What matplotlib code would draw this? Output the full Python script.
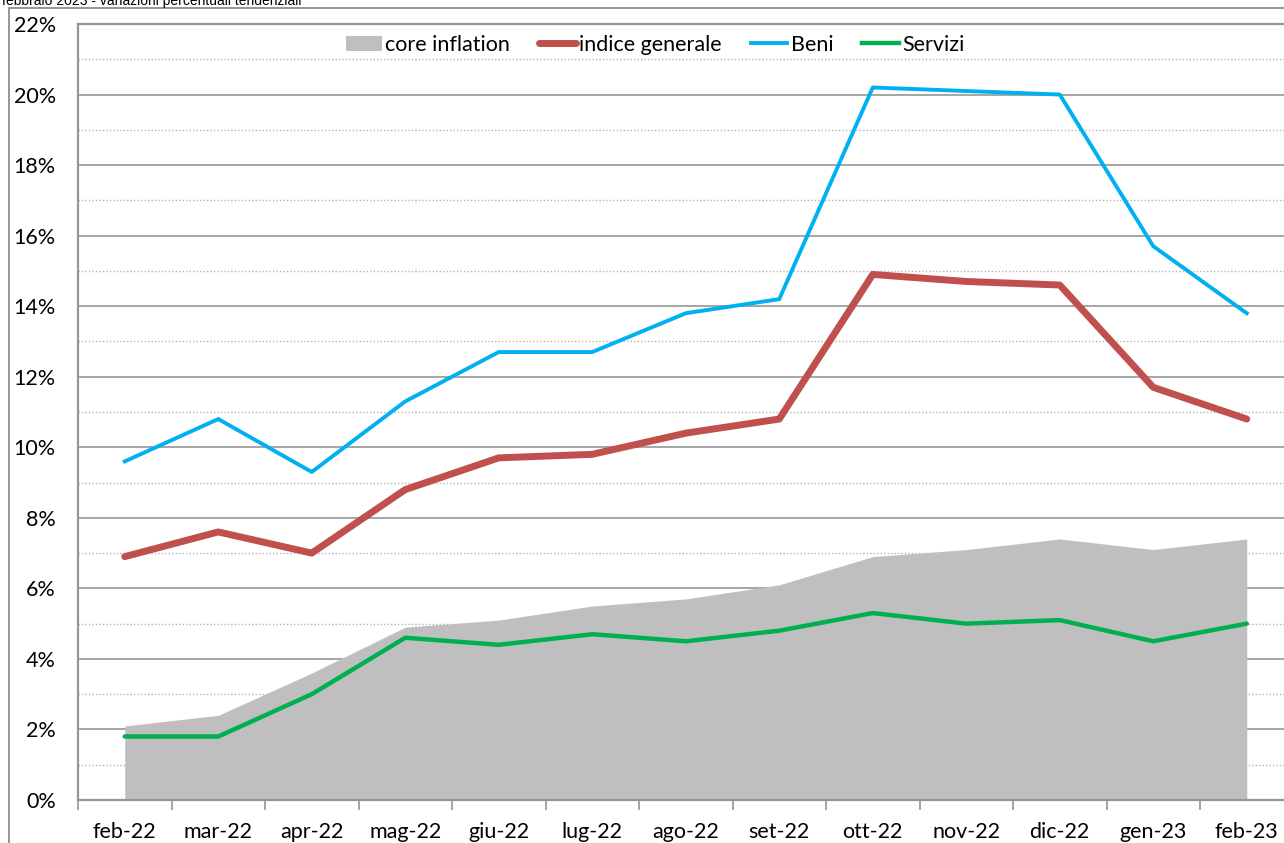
import matplotlib
matplotlib.use("Agg")
import matplotlib.pyplot as plt
from matplotlib.lines import Line2D
from matplotlib.patches import Patch
import numpy as np

# Data (percent)
months = ["feb-22", "mar-22", "apr-22", "mag-22", "giu-22", "lug-22", "ago-22",
          "set-22", "ott-22", "nov-22", "dic-22", "gen-23", "feb-23"]
core = [2.1, 2.4, 3.6, 4.9, 5.1, 5.5, 5.7, 6.1, 6.9, 7.1, 7.4, 7.1, 7.4]
generale = [6.9, 7.6, 7.0, 8.8, 9.7, 9.8, 10.4, 10.8, 14.9, 14.7, 14.6, 11.7, 10.8]
beni = [9.6, 10.8, 9.3, 11.3, 12.7, 12.7, 13.8, 14.2, 20.2, 20.1, 20.0, 15.7, 13.8]
servizi = [1.8, 1.8, 3.0, 4.6, 4.4, 4.7, 4.5, 4.8, 5.3, 5.0, 5.1, 4.5, 5.0]

GREY = "#BFBFBF"
RED = "#C0504D"
BLUE = "#00B0F0"
GREEN = "#00B050"
AXC = "#969696"
FS = 15.5

plt.rcParams["font.family"] = ["Lato", "DejaVu Sans"]

W, H = 1284, 843
fig = plt.figure(figsize=(W / 100, H / 100), dpi=100)
# plot area in pixels: left 78, top 24, bottom 800, category width 93.5
ax = fig.add_axes([78 / W, (H - 800) / H, 13 * 93.5 / W, 776 / H])

x = np.arange(len(months))
ax.fill_between(x, 0, core, color=GREY, lw=0, zorder=2)
ax.plot(x, generale, color=RED, lw=5.0, solid_capstyle="round", zorder=4)
ax.plot(x, beni, color=BLUE, lw=2.8, zorder=5)
ax.plot(x, servizi, color=GREEN, lw=3.2, solid_capstyle="round", zorder=6)

ax.set_xlim(-0.5, len(months) - 0.5)
ax.set_ylim(0, 22)

# gridlines: solid at even, dotted at odd
for v in range(1, 22):
    if v % 2 == 0:
        ax.axhline(v, color=AXC, lw=1.2, zorder=1)
    else:
        ax.axhline(v, color="#B4B4B4", lw=1.0, ls=(0, (1, 1.5)), zorder=1)

ax.set_yticks(range(0, 23, 2))
ax.set_yticklabels([f"{v}%" for v in range(0, 23, 2)], fontsize=FS)
ax.set_xticks(x)
ax.set_xticklabels(months, fontsize=FS)
ax.set_xticks(np.arange(-0.5, len(months)), minor=True)
ax.tick_params(axis="x", which="major", length=0, pad=16)
ax.tick_params(axis="x", which="minor", length=7, width=1.2, color=AXC)
ax.tick_params(axis="y", length=0, pad=16)

ax.spines["right"].set_visible(False)
for side in ["left", "bottom", "top"]:
    ax.spines[side].set_color(AXC)
    ax.spines[side].set_linewidth(1.6)

handles = [
    Patch(facecolor=GREY, edgecolor="none"),
    Line2D([], [], color=RED, lw=5.0, solid_capstyle="round"),
    Line2D([], [], color=BLUE, lw=2.8),
    Line2D([], [], color=GREEN, lw=3.2),
]
labels = ["core inflation", "indice generale", "Beni", "Servizi"]
ax.legend(handles, labels, loc="upper center", bbox_to_anchor=(655 / W, 1 - 22 / H),
          bbox_transform=fig.transFigure, ncol=4, frameon=False, fontsize=FS,
          handlelength=1.7, handletextpad=0.15, columnspacing=1.35,
          borderpad=0.1)

# outer chart border (left and top) and cropped title
fig.add_artist(Line2D([9 / W, 9 / W], [0, 1 - 8 / H], color=AXC, lw=1.4,
                      transform=fig.transFigure))
fig.add_artist(Line2D([9 / W, 1], [1 - 8 / H, 1 - 8 / H], color=AXC, lw=1.4,
                      transform=fig.transFigure))
fig.text(2 / W, 1 - 5 / H, "febbraio 2023 - variazioni percentuali tendenziali",
         fontsize=10, family=["Liberation Sans"], va="baseline", ha="left")

fig.savefig("out.png", dpi=100)
